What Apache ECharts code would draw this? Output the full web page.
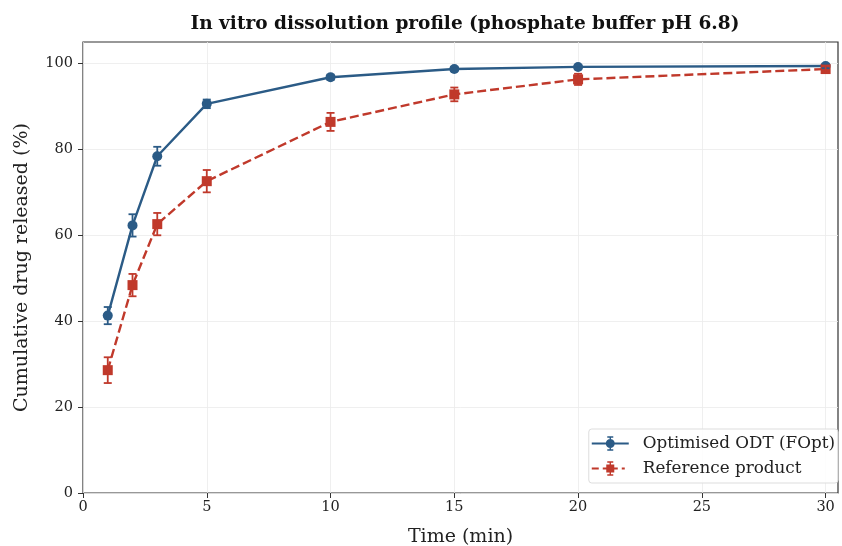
<!DOCTYPE html>
<html>
<head>
<meta charset="utf-8">
<script src="https://cdn.jsdelivr.net/npm/echarts@6/dist/echarts.min.js"></script>
<style>
  html, body { margin: 0; padding: 0; background: #fff; }
  #chart { width: 842px; height: 546px; }
</style>
</head>
<body>
<div id="chart"></div>
<script>
// time points (min)
var times = [1, 2, 3, 5, 10, 15, 20, 30];
// mean cumulative release (%) and SD
var fopt = [41.3, 62.3, 78.4, 90.6, 96.8, 98.7, 99.2, 99.4];
var foptSd = [2.0, 2.6, 2.2, 1.0, 0.6, 0.5, 0.4, 0.5];
var refProd = [28.6, 48.4, 62.6, 72.6, 86.4, 92.8, 96.3, 98.7];
var refSd = [3.0, 2.6, 2.6, 2.6, 2.1, 1.6, 1.3, 0.8];
// tick labels
var xTicks = [0, 5, 10, 15, 20, 25, 30];
var yTicks = [0, 20, 40, 60, 80, 100];

var BLUE = '#2b5b86';
var RED = '#c0392b';
var FONT = 'DejaVu Serif';

function pairs(ys) {
  return times.map(function (t, i) { return [t, ys[i]]; });
}
function bars(ys, sd) {
  return times.map(function (t, i) { return [t, ys[i] - sd[i], ys[i] + sd[i]]; });
}

function errRender(color) {
  return function (params, api) {
    var lo = api.coord([api.value(0), api.value(1)]);
    var hi = api.coord([api.value(0), api.value(2)]);
    var cw = 4;
    var st = { stroke: color, lineWidth: 1.8 };
    return {
      type: 'group',
      children: [
        { type: 'line', shape: { x1: lo[0], y1: lo[1], x2: hi[0], y2: hi[1] }, style: st },
        { type: 'line', shape: { x1: lo[0] - cw, y1: lo[1], x2: lo[0] + cw, y2: lo[1] }, style: st },
        { type: 'line', shape: { x1: hi[0] - cw, y1: hi[1], x2: hi[0] + cw, y2: hi[1] }, style: st }
      ]
    };
  };
}

// legend icons: line + marker + error bar, with blank room on the right before the text
var errPart = 'M17.8,1 L19.2,1 L19.2,14 L17.8,14 Z M15.5,0.3 L21.5,0.3 L21.5,1.7 L15.5,1.7 Z M15.5,13.3 L21.5,13.3 L21.5,14.7 L15.5,14.7 Z';
var pad = ' M46,7.5 L46,7.51 L45.99,7.5 Z';
var blueIcon = 'path://M0,6.5 L37,6.5 L37,8.5 L0,8.5 Z M14,7.5 A4.5,4.5 0 1,1 23,7.5 A4.5,4.5 0 1,1 14,7.5 Z ' + errPart + pad;
var redIcon = 'path://M0,6.5 L7,6.5 L7,8.5 L0,8.5 Z M11,6.5 L26,6.5 L26,8.5 L11,8.5 Z M30,6.5 L33,6.5 L33,8.5 L30,8.5 Z M14.5,3.5 L22.5,3.5 L22.5,11.5 L14.5,11.5 Z ' + errPart + pad;

var chart = echarts.init(document.getElementById('chart'), null, { renderer: 'canvas' });

var option = {
  backgroundColor: '#fff',
  animation: false,
  textStyle: { fontFamily: FONT },
  title: {
    text: 'In vitro dissolution profile (phosphate buffer pH 6.8)',
    left: 460,
    textAlign: 'center',
    top: 10,
    textStyle: { fontFamily: FONT, fontSize: 18.5, fontWeight: 'bold', color: '#111' }
  },
  grid: {
    left: 83, right: 4, top: 42, bottom: 53,
    outerBoundsMode: 'none',
    show: true, borderColor: '#333', borderWidth: 1.2, backgroundColor: 'transparent'
  },
  legend: {
    data: [
      { name: 'Optimised ODT (FOpt)', icon: blueIcon },
      { name: 'Reference product', icon: redIcon }
    ],
    orient: 'vertical',
    right: 4,
    bottom: 63,
    itemWidth: 46,
    itemHeight: 15,
    itemGap: 8,
    padding: [6, 3, 6, 3],
    borderColor: '#dddddd',
    borderWidth: 1,
    borderRadius: 3,
    backgroundColor: 'rgba(255,255,255,0.85)',
    textStyle: { fontFamily: FONT, fontSize: 16.8, color: '#222' }
  },
  xAxis: {
    type: 'value',
    min: 0, max: 30.5, interval: 5,
    name: 'Time (min)',
    nameLocation: 'middle',
    nameGap: 35,
    nameTextStyle: { fontFamily: FONT, fontSize: 19, color: '#222' },
    axisLine: { show: false },
    axisTick: { show: true, length: 5, customValues: xTicks, lineStyle: { color: '#333' } },
    axisLabel: { fontFamily: FONT, fontSize: 14.5, color: '#222', margin: 7, customValues: xTicks },
    splitLine: { show: true, lineStyle: { color: '#ebebeb', width: 0.8 } }
  },
  yAxis: {
    type: 'value',
    min: 0, max: 105, interval: 20,
    name: 'Cumulative drug released (%)',
    nameLocation: 'middle',
    nameGap: 51,
    nameTextStyle: { fontFamily: FONT, fontSize: 19, color: '#222' },
    axisLine: { show: false },
    axisTick: { show: true, length: 5, customValues: yTicks, lineStyle: { color: '#333' } },
    axisLabel: { fontFamily: FONT, fontSize: 14.5, color: '#222', margin: 10, customValues: yTicks },
    splitLine: { show: true, lineStyle: { color: '#ebebeb', width: 0.8 } }
  },
  series: [
    {
      name: 'Optimised ODT (FOpt)',
      type: 'line',
      data: pairs(fopt),
      symbol: 'circle',
      symbolSize: 10,
      lineStyle: { color: BLUE, width: 2.4 },
      itemStyle: { color: BLUE },
      z: 3
    },
    {
      name: 'Reference product',
      type: 'line',
      data: pairs(refProd),
      symbol: 'rect',
      symbolSize: 10,
      lineStyle: { color: RED, width: 2.4, type: [9, 4] },
      itemStyle: { color: RED },
      z: 3
    },
    {
      name: 'fopt-err',
      type: 'custom',
      renderItem: errRender(BLUE),
      data: bars(fopt, foptSd),
      encode: { x: 0, y: [1, 2] },
      z: 4
    },
    {
      name: 'ref-err',
      type: 'custom',
      renderItem: errRender(RED),
      data: bars(refProd, refSd),
      encode: { x: 0, y: [1, 2] },
      z: 4
    }
  ]
};

chart.setOption(option);
</script>
</body>
</html>
